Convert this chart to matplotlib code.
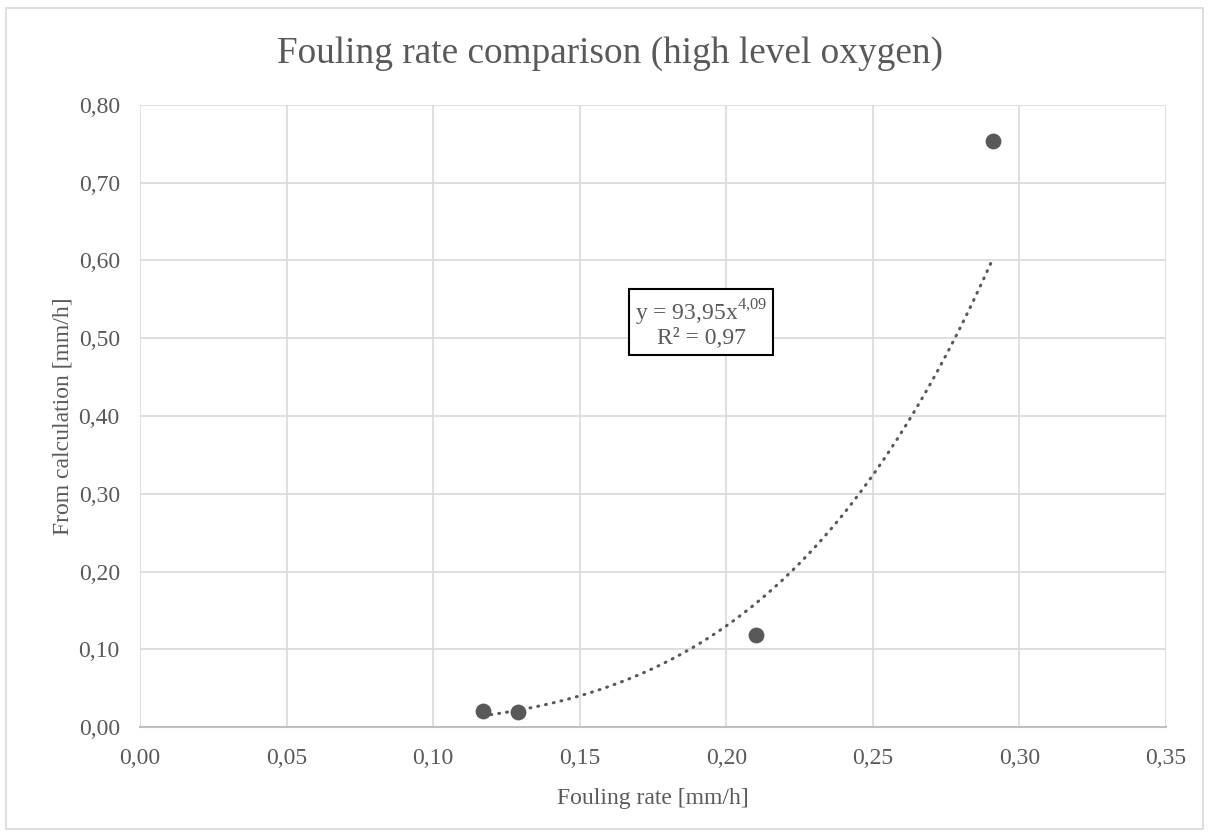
import numpy as np
import matplotlib
matplotlib.use('Agg')
import matplotlib.pyplot as plt
from matplotlib.patches import Rectangle
from matplotlib.ticker import FuncFormatter

# measured data (Fouling rate vs calculated value)
fouling_rate = [0.117, 0.129, 0.210, 0.291]
from_calc = [0.020, 0.019, 0.118, 0.754]

# power trendline as reported by the chart
trend_a = 93.95
trend_b = 4.09
eq_text = r'y = 93,95x$^{\mathrm{4{,}09}}$'
r2_text = 'R² = 0,97'

x_ticks = np.arange(0, 0.351, 0.05)
y_ticks = np.arange(0, 0.801, 0.10)

GREY = '#595959'
GRID = '#d9d9d9'

plt.rcParams['font.family'] = ['Liberation Serif', 'DejaVu Serif']
plt.rcParams['mathtext.fontset'] = 'custom'
plt.rcParams['mathtext.rm'] = 'Liberation Serif'

fig = plt.figure(figsize=(12.1, 8.35), dpi=100)
ax = fig.add_axes([0.1157, 0.1293, 0.8479, 0.745])

# outer chart border
fig.patches.append(Rectangle((6 / 1210, 6 / 835), 1197 / 1210, 821 / 835,
                             transform=fig.transFigure, fill=False,
                             edgecolor=GRID, linewidth=1.2))

xs = np.linspace(min(fouling_rate), max(fouling_rate), 200)
ax.plot(xs, trend_a * xs ** trend_b, color=GREY, linewidth=2.2,
        linestyle=(0, (0.3, 2.3)), dash_capstyle='round', zorder=3)
ax.scatter(fouling_rate, from_calc, s=130, color=GREY, zorder=4, linewidths=0)

ax.set_xlim(0, 0.35)
ax.set_ylim(0, 0.80)
ax.set_xticks(x_ticks)
ax.set_yticks(y_ticks)
fmt = FuncFormatter(lambda v, p: f'{v:.2f}'.replace('.', ','))
ax.xaxis.set_major_formatter(fmt)
ax.yaxis.set_major_formatter(fmt)
ax.tick_params(length=0, labelsize=17, labelcolor=GREY)
ax.tick_params(axis='x', pad=15)
ax.tick_params(axis='y', pad=14.5)
ax.grid(True, color=GRID, linewidth=1.2)
ax.set_axisbelow(True)
for side in ['top', 'right', 'left']:
    ax.spines[side].set_visible(False)
ax.spines['bottom'].set_color('#bfbfbf')
ax.spines['bottom'].set_linewidth(1.5)

ax.set_xlabel('Fouling rate [mm/h]', fontsize=17, color=GREY, labelpad=14)
ax.set_ylabel('From calculation [mm/h]', fontsize=17, color=GREY, labelpad=4)
fig.text(0.504, 1 - 63 / 835, 'Fouling rate comparison (high level oxygen)',
         fontsize=26.8, color=GREY, ha='center', va='baseline')

ax.text(0.1914, 0.519, eq_text + '\n' + r2_text, fontsize=17, color=GREY,
        ha='center', va='center', linespacing=1.0,
        bbox=dict(boxstyle='square,pad=0.25', facecolor='white',
                  edgecolor='black', linewidth=1.5), zorder=5)

fig.savefig('out.png', dpi=100)
